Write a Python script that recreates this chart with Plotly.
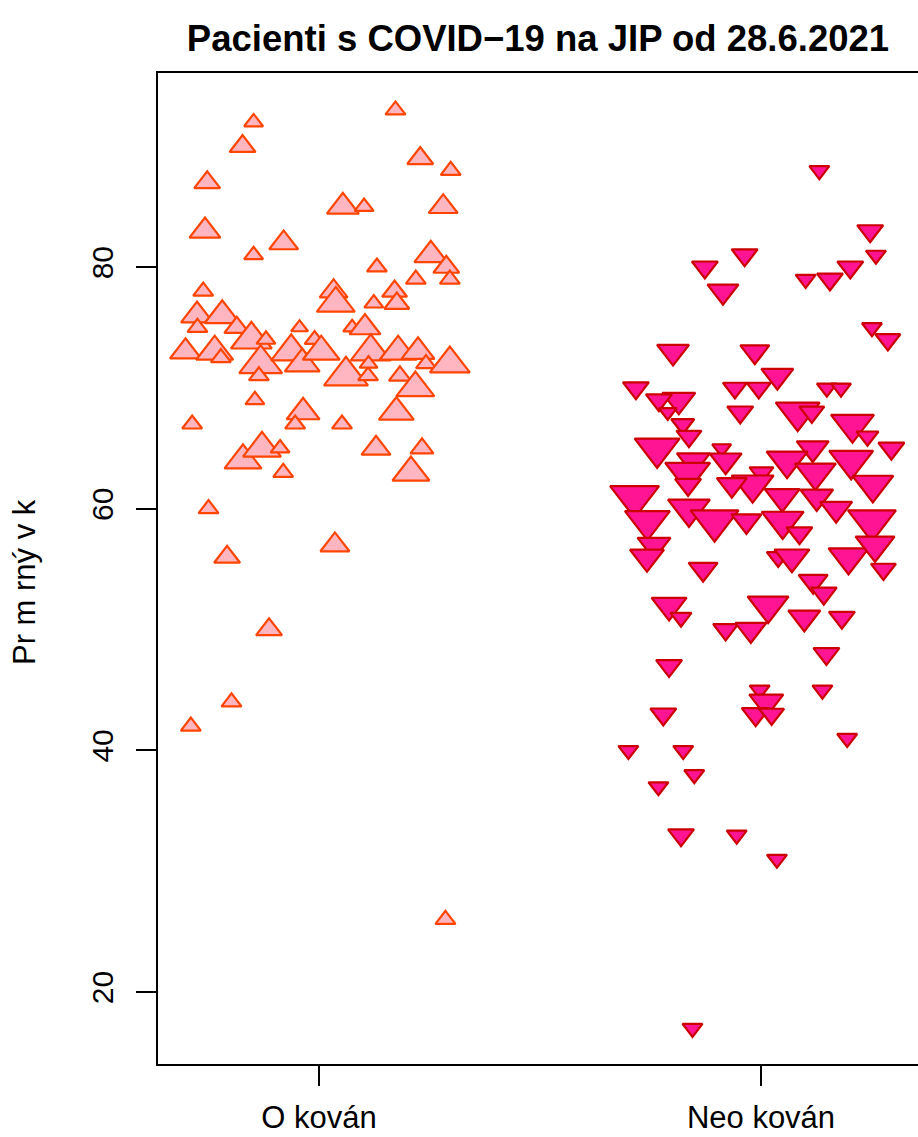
import plotly.graph_objects as go

# ---------------- data ----------------
categories = ["O kován", "Neo kován"]

# Group 1: "O kován" (up triangles)
vac_age = [92, 90, 87, 83, 81, 82, 93, 89, 88, 85, 85, 85, 80, 81, 80, 79, 79, 78, 77, 77,
           78, 77, 78, 76, 76, 75, 75, 73, 73, 74, 72.5, 72, 71, 74, 73, 72, 75, 74, 73, 71,
           75, 75, 73, 71, 72, 73, 71, 73, 72, 72, 70, 68, 69, 68, 67, 67, 67, 64, 65, 65,
           63, 65, 65, 63, 60, 57, 56, 50, 44, 42, 26]
vac_jitter = [-0.148, -0.173, -0.253, -0.258, -0.148, -0.080, 0.173, 0.229, 0.298, 0.054,
              0.102, 0.281, 0.131, 0.253, 0.288, 0.296, 0.219, 0.171, 0.176, 0.124,
              0.033, 0.038, -0.262, -0.276, -0.219, -0.275, -0.186, -0.302, -0.236, -0.153,
              -0.222, -0.132, -0.136, -0.120, -0.063, -0.038, -0.044, -0.010, 0.005, 0.061,
              0.075, 0.104, 0.117, 0.111, 0.112, 0.179, 0.183, 0.224, 0.242, 0.296,
              0.218, 0.175, -0.145, -0.036, -0.054, -0.287, 0.052, -0.172, -0.129, -0.088,
              -0.081, 0.129, 0.233, 0.208, -0.250, 0.036, -0.208, -0.113, -0.198, -0.290,
              0.286]
vac_cex = [0.95, 1.3, 1.3, 1.55, 0.95, 1.45, 1.0, 1.3, 1.0, 1.6, 0.95, 1.45, 1.0, 1.65, 1.3,
           1.0, 1.0, 1.25, 1.25, 0.95, 1.4, 1.9, 1.0, 1.6, 1.75, 1.0, 1.25, 1.55, 1.85, 2.05,
           1.0, 2.15, 1.0, 0.95, 2.0, 1.75, 0.85, 1.0, 1.85, 2.2, 0.9, 1.55, 2.0, 1.0, 0.9,
           1.85, 1.1, 1.65, 1.0, 2.0, 1.9, 1.75, 0.95, 1.65, 1.0, 1.0, 1.0, 1.85, 1.9, 0.95,
           1.0, 1.45, 1.15, 1.85, 1.0, 1.45, 1.3, 1.3, 1.0, 1.0, 1.0]

# Group 2: "Neo kován" (down triangles)
unvac_age = [88, 83, 81, 81, 80, 78, 79, 79, 80, 75, 74, 73, 73, 71, 70, 70, 70, 70, 70, 69,
             69, 68, 68, 68, 68, 67, 66, 65, 67, 66, 65, 65, 64, 64, 65, 64, 64, 63, 63, 63,
             62, 62, 62, 61, 62, 61, 61, 60, 59, 59, 60, 59, 59, 59, 58, 57, 56, 56, 56, 56,
             57, 55, 55, 54, 53, 52, 51, 50, 50, 52, 51, 51, 48, 47, 45, 45, 44, 43, 43, 43,
             41, 40, 40, 38, 37, 33, 33, 31, 17]
unvac_jitter = [0.132, 0.247, 0.260, -0.037, -0.127, -0.086, 0.101, 0.156, 0.202, 0.251,
                0.287, -0.199, -0.014, 0.037, -0.283, -0.059, -0.005, 0.149, 0.181, -0.186,
                -0.231, -0.211, -0.047, 0.083, 0.115, 0.207, 0.241, 0.295, -0.177, -0.163,
                -0.235, -0.089, -0.153, -0.080, 0.117, 0.059, 0.204, -0.166, 0.123, 0.001,
                -0.019, -0.066, 0.253, -0.286, -0.165, 0.048, 0.126, 0.170, 0.251, -0.257,
                -0.163, -0.105, -0.033, 0.049, 0.087, -0.242, -0.258, 0.039, 0.070, 0.198,
                0.258, 0.277, -0.131, 0.118, 0.142, -0.208, -0.181, -0.080, -0.023, 0.016,
                0.098, 0.183, 0.148, -0.208, 0.139, -0.003, 0.012, -0.012, 0.024, -0.221,
                0.195, -0.300, -0.176, -0.151, -0.232, -0.181, -0.055, 0.036, -0.155]
unvac_cex = [1.0, 1.3, 1.0, 1.3, 1.3, 1.55, 1.0, 1.3, 1.3, 1.0, 1.25, 1.6, 1.45, 1.6, 1.3,
             1.2, 1.2, 1.0, 1.0, 1.65, 1.3, 0.9, 1.3, 2.2, 1.25, 2.15, 1.1, 1.3, 1.15, 1.25,
             2.25, 0.95, 1.65, 1.6, 1.6, 2.05, 2.2, 2.25, 2.05, 1.2, 2.1, 1.5, 2.05, 2.45,
             1.3, 1.75, 1.65, 1.6, 2.4, 2.25, 2.1, 2.4, 1.5, 2.1, 1.3, 1.65, 1.7, 1.15, 1.75,
             2.0, 1.95, 1.25, 1.45, 1.45, 1.3, 1.75, 1.05, 1.25, 1.55, 2.05, 1.6, 1.3, 1.3,
             1.3, 1.0, 1.0, 1.7, 1.4, 1.25, 1.3, 1.0, 1.0, 1.0, 1.0, 1.0, 1.3, 1.0, 1.0, 1.0]

title_text = "<b>Pacienti s COVID\u221219 na JIP od 28.6.2021</b>"
y_label = "Pr m rný v k"
y_ticks = [20, 40, 60, 80]

# ---------------- figure ----------------
FONT = "Liberation Sans, Arial, Helvetica, sans-serif"
BASE = 20 / 1.155  # px of marker size per unit cex
W, H = 918, 1137
plot_top, plot_bottom, plot_left = 73, 1064, 158

fig = go.Figure()
fig.add_trace(go.Scatter(
    x=[1 + j for j in vac_jitter], y=vac_age, mode="markers",
    marker=dict(symbol="triangle-up", size=[c * BASE for c in vac_cex],
                color="#FFB6C1", opacity=1, line=dict(color="#FF4500", width=2.2)),
    cliponaxis=False, showlegend=False, hoverinfo="skip"))
fig.add_trace(go.Scatter(
    x=[2 + j for j in unvac_jitter], y=unvac_age, mode="markers",
    marker=dict(symbol="triangle-down", size=[c * BASE for c in unvac_cex],
                color="#FF1493", opacity=1, line=dict(color="#CD0000", width=2.2)),
    cliponaxis=False, showlegend=False, hoverinfo="skip"))

fig.update_layout(
    width=W, height=H, autosize=False,
    margin=dict(l=plot_left, r=0, t=plot_top, b=H - plot_bottom, pad=0, autoexpand=False),
    paper_bgcolor="white", plot_bgcolor="white",
    font=dict(family=FONT, size=30, color="black"),
    title=dict(text=title_text, x=538 / W, xanchor="center",
               y=1 - 38 / H, yanchor="middle",
               font=dict(family=FONT, size=36.5, color="black")),
    xaxis=dict(range=[0.6357, 2.3552], tickmode="array", tickvals=[1, 2],
               ticktext=categories, showgrid=False, zeroline=False, automargin=False,
               showline=True, linecolor="black", linewidth=1.5, mirror=True,
               ticks="outside", ticklen=20, tickwidth=1.5, tickcolor="black",
               ticklabelstandoff=5,
               tickfont=dict(family=FONT, size=31, color="black")),
    yaxis=dict(range=[14.04, 96.07], tickmode="array", tickvals=y_ticks,
               showgrid=False, zeroline=False, automargin=False,
               showline=True, linecolor="black", linewidth=1.5, mirror=False,
               ticks="outside", ticklen=20, tickwidth=1.5, tickcolor="black",
               tickangle=-90, ticklabelstandoff=11,
               tickfont=dict(family=FONT, size=30, color="black")),
    annotations=[dict(text=y_label, xref="paper", yref="paper",
                      x=(24 - 158) / 760, y=(1064 - 582) / 991,
                      xanchor="center", yanchor="middle", textangle=-90,
                      showarrow=False, font=dict(family=FONT, size=31, color="black"))],
)

fig.write_html(
    "out.html",
    config={"displayModeBar": False},
    post_script="document.body.style.margin='0px';"
                "document.body.style.overflow='hidden';",
)
